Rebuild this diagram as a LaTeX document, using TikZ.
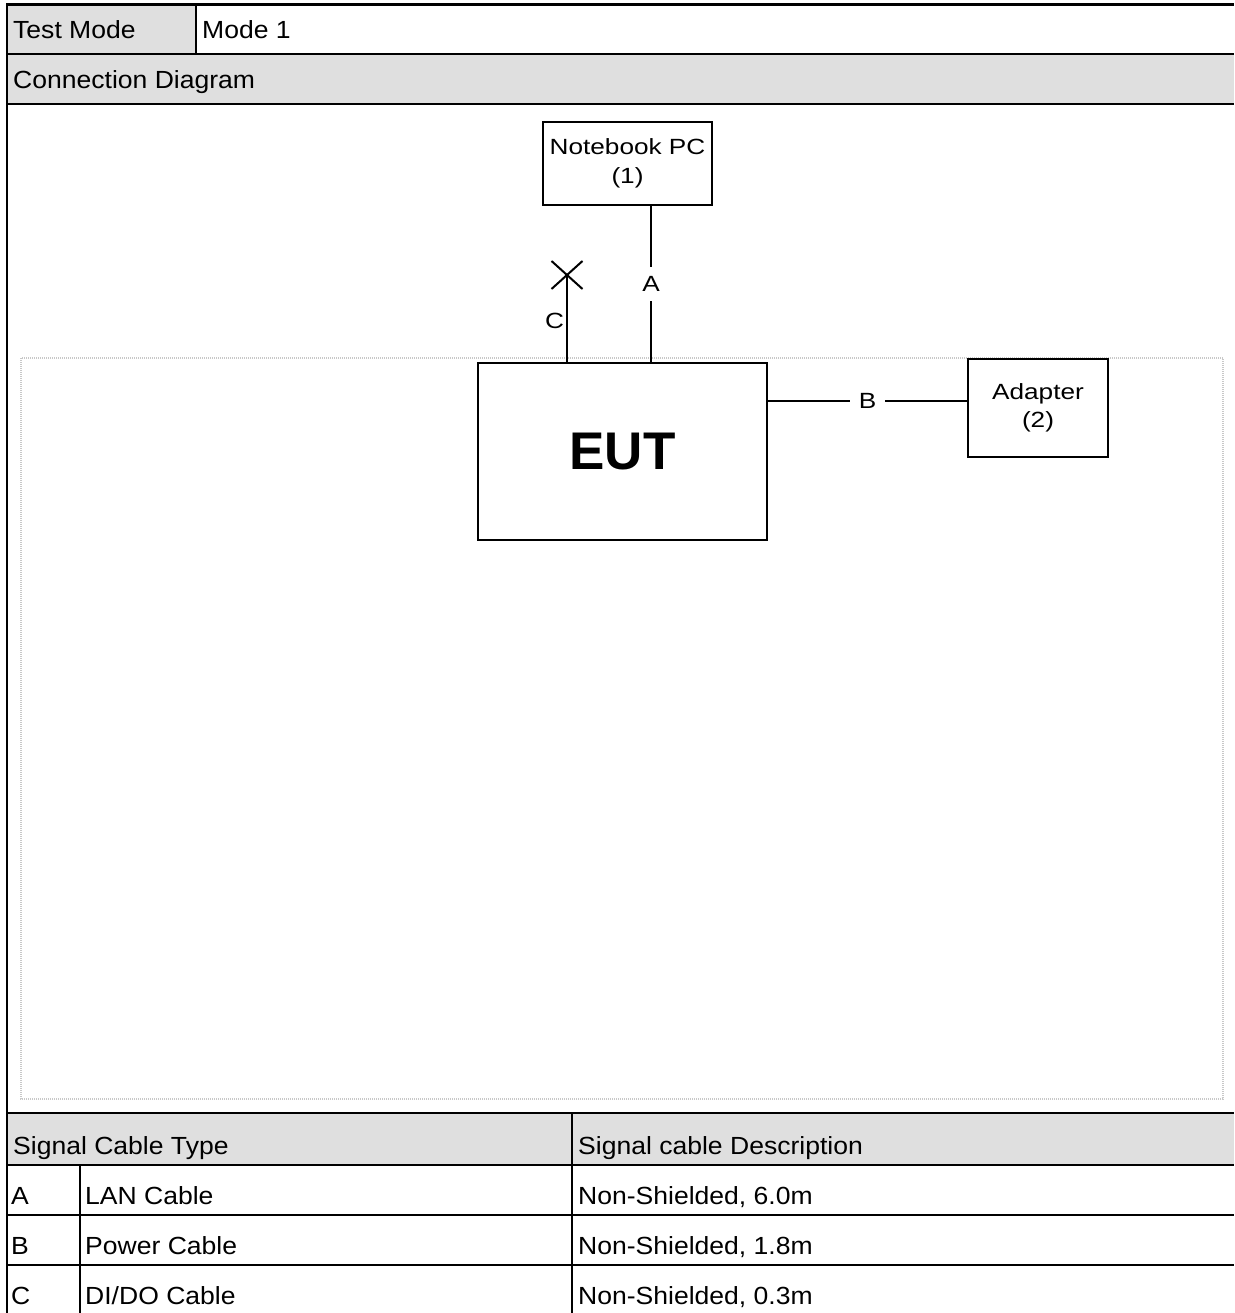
\documentclass[tikz,border=0pt]{standalone}
\usepackage{fontspec}
\setmainfont{Liberation Sans}
\newfontfamily\tabfont[FakeStretch=1.07]{Liberation Sans}
\newfontfamily\dgmfont[FakeStretch=1.19]{Liberation Sans}
\usetikzlibrary{shapes.misc}
\definecolor{hdr}{RGB}{223,223,223}
\definecolor{dotgray}{RGB}{200,200,200}
\begin{document}
\begin{tikzpicture}[x=1pt,y=-1pt,
  tline/.style={line width=2.4pt,black},
  cell/.style={anchor=base west,inner sep=0pt,font=\tabfont\fontsize{24.8}{28}\selectfont},
  dbox/.style={draw,line width=2pt,inner sep=0pt,align=center,font=\dgmfont\fontsize{22}{28.5}\selectfont},
  cable/.style={line width=2pt},
  lbl/.style={fill=white,inner sep=9pt,font=\dgmfont\fontsize{22}{25}\selectfont},
  sidelbl/.style={inner sep=2pt,font=\dgmfont\fontsize{22}{25}\selectfont},
  area/.style={draw=dotgray,line width=2pt,dash pattern=on 1pt off 1pt}]
\useasboundingbox (0,0) rectangle (1234,1313);
% header fills
\fill[hdr] (7,4) rectangle (196,54);
\fill[hdr] (7,54) rectangle (1234,104);
\fill[hdr] (7,1113) rectangle (1234,1165);
% table rules
\draw[tline] (7,4.5) -- (1234,4.5);
\draw[tline] (7,54) -- (1234,54);
\draw[tline] (7,104) -- (1234,104);
\draw[tline] (7,1113) -- (1234,1113);
\draw[tline] (7,1165) -- (1234,1165);
\draw[tline] (7,1215) -- (1234,1215);
\draw[tline] (7,1265) -- (1234,1265);
\draw[tline] (7,3.3) -- (7,1313);
\draw[tline] (196,4.5) -- (196,54);
\draw[tline] (572,1113) -- (572,1313);
\draw[tline] (80,1165) -- (80,1313);
% table texts
\node[cell] (tm) at (13,38.5) {Test Mode};
\node[cell] (m1) at (202,38.5) {Mode 1};
\node[cell] (cd) at (13,88.5) {Connection Diagram};
\node[cell] (sct) at (13,1154) {Signal Cable Type};
\node[cell] (scd) at (578,1154) {Signal cable Description};
\node[cell] (ra) at (11,1204) {A};
\node[cell] (rat) at (85,1204) {LAN Cable};
\node[cell] (rad) at (578,1204) {Non-Shielded, 6.0m};
\node[cell] (rb) at (11,1254) {B};
\node[cell] (rbt) at (85,1254) {Power Cable};
\node[cell] (rbd) at (578,1254) {Non-Shielded, 1.8m};
\node[cell] (rc) at (11,1304) {C};
\node[cell] (rct) at (85,1304) {DI/DO Cable};
\node[cell] (rcd) at (578,1304) {Non-Shielded, 0.3m};
% dotted area
\draw[area] (21,358) rectangle (1223,1099);
% diagram
\node[dbox,minimum width=169pt,minimum height=83pt] (nb) at (627.5,163.5) {Notebook PC\\(1)};
\node[dbox,minimum width=140pt,minimum height=98pt] (ad) at (1038,408) {Adapter\\(2)};
\node[draw,line width=2pt,inner sep=0pt,minimum width=289pt,minimum height=177pt,
      font=\bfseries\fontsize{53}{60}\selectfont] (eut) at (622.5,451.5) {EUT};
\coordinate (ax) at (651,0);
\coordinate (by) at (0,401);
\node[cross out,draw,line width=2pt,minimum width=29pt,minimum height=26pt,inner sep=0pt] (xm) at (567,275) {};
\draw[cable] (nb.south -| ax) -- node[lbl] {A} (eut.north -| ax);
\draw[cable] (eut.east |- by) -- node[lbl] {B} (ad.west |- by);
\draw[cable] (eut.north -| xm) -- node[sidelbl,left,pos=0.47] {C} (xm.center);
\end{tikzpicture}
\end{document}
